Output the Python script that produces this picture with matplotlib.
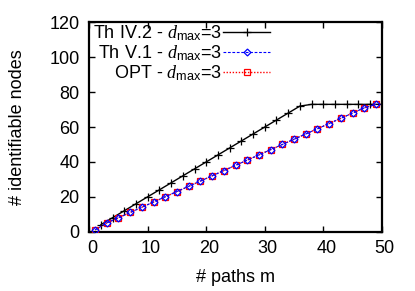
import matplotlib
matplotlib.use('Agg')
import matplotlib.pyplot as plt
from matplotlib.transforms import ScaledTranslation

# data
th42_m = [2, 4, 6, 8, 10, 12, 14, 16, 18, 20, 22, 24, 26, 28, 30, 32, 34, 36,
          38, 40, 42, 44, 46, 48, 50]
th42_y = [4, 8, 12, 16, 20, 24, 28, 32, 36, 40, 44, 48, 52, 56, 60, 64, 68, 72,
          73, 73, 73, 73, 73, 73, 73]

th51_m = [1, 3, 5, 7, 9, 11, 13, 15, 17, 19, 21, 23, 25, 27, 29, 31, 33, 35,
          37, 39, 41, 43, 45, 47, 49]
th51_y = [1, 5, 8, 11, 14, 17, 20, 23, 26, 29, 32, 35, 38, 41, 44, 47, 50, 53,
          56, 59, 62, 65, 68, 71, 73]

opt_m = [1, 3, 5, 7, 9, 11, 13, 15, 17, 19, 21, 23, 25, 27, 29, 31, 33, 35,
         37, 39, 41, 43, 45, 47, 49]
opt_y = [1, 5, 8, 11, 14, 17, 20, 23, 26, 29, 32, 35, 38, 41, 44, 47, 50, 53,
         56, 59, 62, 65, 68, 71, 73]

labels = [r'Th IV.2 - $d_{\mathrm{max}}$=3',
          r'Th V.1 - $d_{\mathrm{max}}$=3',
          r'OPT - $d_{\mathrm{max}}$=3']
x_ticks = [0, 10, 20, 30, 40, 50]
y_ticks = [0, 20, 40, 60, 80, 100, 120]

plt.rcParams['font.family'] = ['Liberation Sans', 'DejaVu Sans']
plt.rcParams['mathtext.fontset'] = 'custom'
plt.rcParams['mathtext.rm'] = 'Liberation Sans'
plt.rcParams['mathtext.it'] = 'Liberation Serif:italic'
plt.rcParams['font.size'] = 13

fig = plt.figure(figsize=(4.15, 2.91), dpi=100)
ax = fig.add_axes([0.215, 0.204, 0.705, 0.719])

ax.plot(th42_m, th42_y, color='black', lw=1.0, marker='+', ms=5.5, mew=0.9,
        label=labels[0], zorder=3)
ax.plot(opt_m, opt_y, color='#ff0000', lw=1.0, ls=(0, (1, 1.2)), marker='s',
        ms=5, mfc='none', mew=0.9, label=labels[2], zorder=4)
ax.plot(th51_m, th51_y, color='#0000ff', lw=0.8, ls=(0, (2.5, 1.5)), marker='D',
        ms=3.5, mfc='none', mew=0.9, label=labels[1], zorder=5)

ax.set_xlim(0, 50)
ax.set_ylim(0, 120)
ax.set_xticks(x_ticks)
ax.set_yticks(y_ticks)
ax.tick_params(direction='in', length=4.5, width=1.0, top=True, right=True)
ax.tick_params(axis='x', pad=6)
ax.tick_params(axis='y', pad=7)
for s in ax.spines.values():
    s.set_linewidth(1.6)

# gnuplot-style: x tick labels sit a little right of their ticks
shift = ScaledTranslation(3 / 100, 0, fig.dpi_scale_trans)
for t in ax.get_xticklabels():
    t.set_transform(t.get_transform() + shift)

ax.set_xlabel('# paths m')
ax.set_ylabel('# identifiable nodes')
ax.xaxis.set_label_coords(0.5, -0.18)
ax.yaxis.set_label_coords(-0.215, 0.5)

h, l = ax.get_legend_handles_labels()
order = [0, 2, 1]
leg = ax.legend([h[i] for i in order], [l[i] for i in order],
                loc='upper right', bbox_to_anchor=(0.618, 0.995),
                frameon=False, markerfirst=False, handlelength=2.6,
                handletextpad=0.05, borderpad=0, borderaxespad=0,
                labelspacing=0.0, fontsize=13)

fig.savefig('out.png', dpi=100)
